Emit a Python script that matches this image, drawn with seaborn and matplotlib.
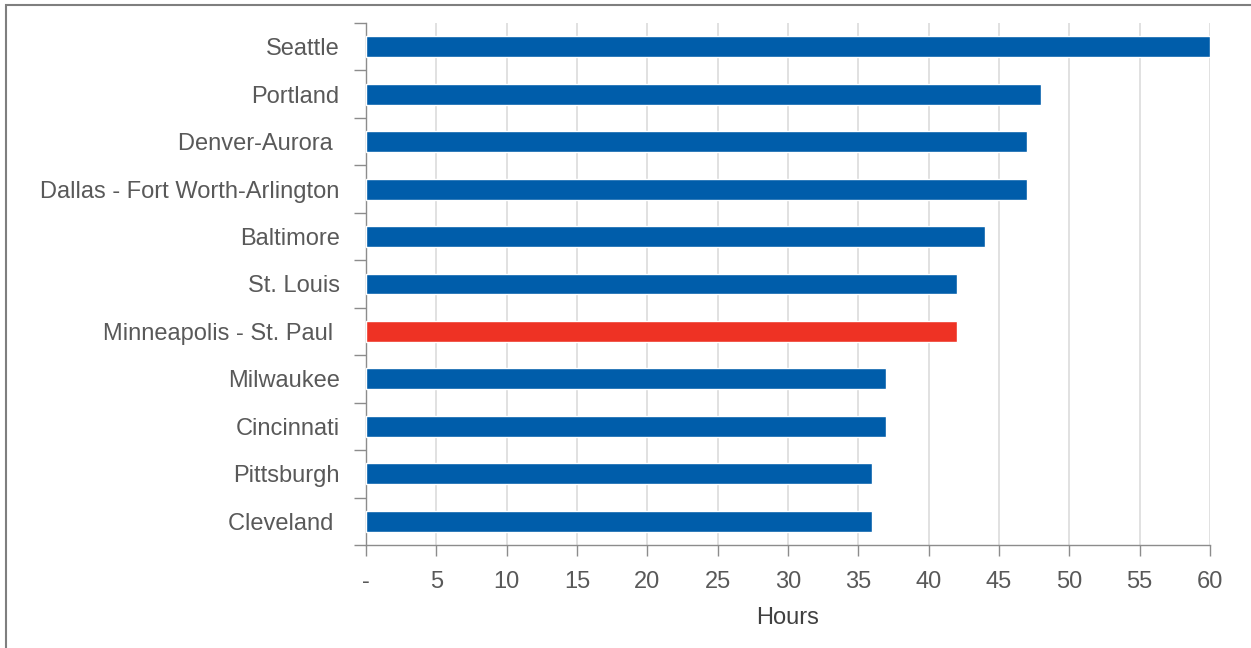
import numpy as np
import pandas as pd
import matplotlib
matplotlib.use("Agg")
import matplotlib.pyplot as plt
import seaborn as sns

sns.set_style("white")
plt.rcParams['font.family'] = ['Liberation Sans', 'DejaVu Sans']

cities = ["Seattle", "Portland", "Denver-Aurora ", "Dallas - Fort Worth-Arlington",
          "Baltimore", "St. Louis", "Minneapolis - St. Paul ", "Milwaukee",
          "Cincinnati", "Pittsburgh", "Cleveland "]
hours = [60, 48, 47, 47, 44, 42, 42, 37, 37, 36, 36]
highlight = "Minneapolis - St. Paul "

blue = "#005DAA"
red = "#EE3224"
grey_text = "#595959"
axis_grey = "#8c8c8c"
fs = 17

df = pd.DataFrame({"City": cities, "Hours": hours})
palette = {c: (red if c == highlight else blue) for c in cities}

fig = plt.figure(figsize=(12.51, 6.48), dpi=100)
ax = fig.add_axes([0.2926, 0.159, 0.9672 - 0.2926, 0.9645 - 0.159])

sns.barplot(data=df, x="Hours", y="City", hue="City", palette=palette,
            legend=False, width=0.44, saturation=1, ax=ax, zorder=3)

ax.set_xlim(0, 60)
ax.set_ylim(len(cities) - 0.5, -0.5)
ax.set_xticks(np.arange(0, 61, 5))
ax.set_xticklabels(["-"] + [str(v) for v in range(5, 61, 5)])
ax.xaxis.grid(True, color="#dcdcdc", linewidth=1.2, zorder=0)
ax.yaxis.grid(False)

# ticks between categories on the y axis
ax.set_yticks(np.arange(-0.5, len(cities), 1), minor=True)
ax.tick_params(axis="y", which="major", length=0, pad=19, labelsize=fs, labelcolor=grey_text)
ax.tick_params(axis="y", which="minor", length=9, width=1, color=axis_grey, left=True)
ax.tick_params(axis="x", which="major", length=8, width=1, color=axis_grey, bottom=True,
               pad=11, labelsize=fs, labelcolor=grey_text)

for s in ["top", "right"]:
    ax.spines[s].set_visible(False)
for s in ["left", "bottom"]:
    ax.spines[s].set_color(axis_grey)
    ax.spines[s].set_linewidth(1)

ax.set_ylabel("")
ax.set_xlabel("Hours", fontsize=fs, color="#404040", labelpad=10)

# frame around the figure
fig.patches.append(plt.Rectangle((6 / 1251, -0.05), 1.1, 1 - 5 / 648 + 0.05,
                                 transform=fig.transFigure, fill=False,
                                 edgecolor="#7f7f7f", linewidth=1.5))

fig.savefig("out.png", dpi=100)
